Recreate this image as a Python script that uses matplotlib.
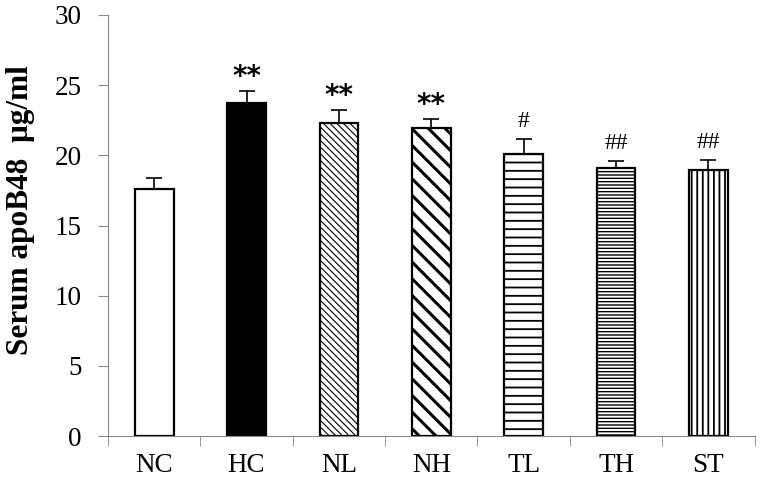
import numpy as np
import matplotlib.pyplot as plt

plt.rcParams['font.family'] = ['Liberation Serif', 'DejaVu Serif']

# datos
grupos = ['NC', 'HC', 'NL', 'NH', 'TL', 'TH', 'ST']
media = [17.6, 23.75, 22.3, 21.95, 20.1, 19.1, 18.95]
error = [0.8, 0.8, 0.95, 0.65, 1.1, 0.5, 0.75]
signos = ['', '**', '**', '**', '#', '##', '##']

colores = ['white', 'black', 'white', 'white', 'white', 'white', 'white']
tramas = ['', '', '\\\\\\\\\\', '\\\\', '--', '-----', '|||']
grosor_trama = [1, 1, 0.8, 2.2, 1.3, 1.0, 1.3]

fig, ax = plt.subplots(figsize=(7.6, 4.82), dpi=100)
fig.subplots_adjust(left=0.142, right=0.993, top=0.969, bottom=0.095)

x = np.arange(len(grupos))
barras = ax.bar(x, media, width=0.42, color=colores, edgecolor='black',
                linewidth=1.6, hatch=tramas, zorder=2)
for b, g in zip(barras, grosor_trama):
    try:
        b.set_hatch_linewidth(g)
    except AttributeError:
        pass

ax.errorbar(x, media, yerr=[np.zeros(len(error)), error], fmt='none',
            ecolor='black', elinewidth=1.2, capsize=5.5, capthick=1.2, zorder=3)

for xi, m, e, s in zip(x, media, error, signos):
    if s.startswith('*'):
        ax.annotate(s, (xi, m + e), xytext=(0, 0), textcoords='offset points',
                    ha='center', va='bottom', fontsize=20, fontweight='bold',
                    family=['DejaVu Sans'])
    elif s:
        ax.annotate(s, (xi, m + e), xytext=(0, 5), textcoords='offset points',
                    ha='center', va='bottom', fontsize=17)

ax.set_xlim(-0.5, len(grupos) - 0.5)
ax.set_ylim(0, 30)
ax.set_yticks(range(0, 31, 5))
ax.set_xticks(x)
ax.set_xticklabels(grupos)
ax.set_xticks(np.arange(-0.5, len(grupos), 1), minor=True)
ax.tick_params(axis='x', which='major', length=0, labelsize=19.5, pad=12)
ax.tick_params(axis='x', which='minor', length=7, color='#888888', direction='out')
ax.tick_params(axis='y', length=7, color='#888888', labelsize=19.5, pad=12)

for lado in ['top', 'right']:
    ax.spines[lado].set_visible(False)
for lado in ['left', 'bottom']:
    ax.spines[lado].set_color('#888888')

ax.set_ylabel('Serum apoB48  μg/ml', fontsize=22.5, fontweight='bold')
ax.yaxis.set_label_coords(-0.112, 0.537)

plt.savefig('out.png')
